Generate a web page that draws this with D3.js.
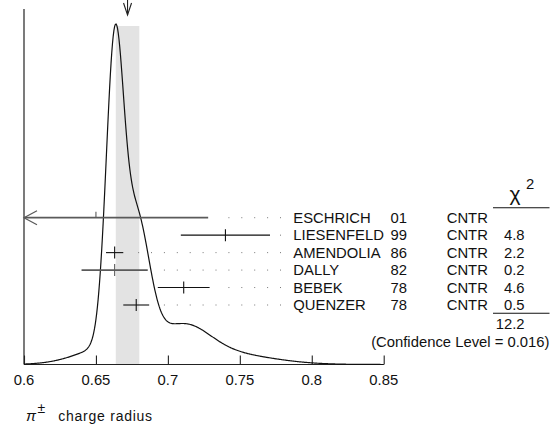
<!DOCTYPE html>
<html><head><meta charset="utf-8">
<script src="https://cdn.jsdelivr.net/npm/d3@7"></script>
<style>
html,body{margin:0;padding:0;background:#fff;}
svg{display:block;}
text{font-family:"Liberation Sans",Arial,sans-serif;}
</style></head>
<body>
<svg id="chart" width="556" height="427"></svg>
<script>
// ---- data ----
const names = ["ESCHRICH", "LIESENFELD", "AMENDOLIA", "DALLY", "BEBEK", "QUENZER"];
const years = ["01", "99", "86", "82", "78", "78"];
const techniques = ["CNTR", "CNTR", "CNTR", "CNTR", "CNTR", "CNTR"];
const values = [0.650, 0.740, 0.663, 0.663, 0.711, 0.678];
const errors = [0.078, 0.031, 0.006, 0.023, 0.018, 0.009];
const usedInFit = [false, true, true, true, true, true];
const chi2Labels = ["", "4.8", "2.2", "0.2", "4.6", "0.5"];
const chi2Total = "12.2";
const confidenceLevel = "0.016";
const xTicks = [0.6, 0.65, 0.7, 0.75, 0.8, 0.85];
const xTickLabels = ["0.6", "0.65", "0.7", "0.75", "0.8", "0.85"];
const quantityLabel = "charge radius";

// ---- derived fit (weighted mean, scaled error) ----
const fitIdx = d3.range(names.length).filter(i => usedInFit[i]);
const wsum = d3.sum(fitIdx, i => 1 / (errors[i] ** 2));
const mean = d3.sum(fitIdx, i => values[i] / (errors[i] ** 2)) / wsum;
const chi2 = d3.sum(fitIdx, i => ((values[i] - mean) / errors[i]) ** 2);
const scaleS = Math.sqrt(chi2 / (fitIdx.length - 1));
const meanErr = scaleS / Math.sqrt(wsum);

const svg = d3.select("#chart");
const x = d3.scaleLinear().domain([0.6, 0.85]).range([24, 383.7]);
const baseY = 364.5;
const rowY = d3.scaleLinear().domain([0, 5]).range([217.7, 305]);

const SX = 1.06;
function txt(px, py, str, anchor, size) {
  return svg.append("text")
    .attr("transform", `translate(${px},${py}) scale(${SX},1)`)
    .attr("text-anchor", anchor || "start")
    .attr("font-size", size || 14).attr("fill", "#111").text(str);
}

// ideogram: sum of gaussians, area ∝ 1/sigma
const gx = d3.range(0.6, 0.8501, 0.0005);
const ideo = gx.map(v => [v, d3.sum(fitIdx, i => {
  const s = errors[i];
  return (1 / (s * s)) * Math.exp(-0.5 * ((v - values[i]) / s) ** 2);
})]);
const yMax = d3.max(ideo, d => d[1]);
const y = d3.scaleLinear().domain([0, yMax]).range([baseY, 24]);

// band
svg.append("rect")
  .attr("x", x(mean - meanErr)).attr("width", x(mean + meanErr) - x(mean - meanErr))
  .attr("y", 26).attr("height", baseY - 26)
  .attr("fill", "#e3e3e3");

// arrow at top indicating the mean
const ax = x(mean);
svg.append("line").attr("x1", ax).attr("x2", ax).attr("y1", 0).attr("y2", 15)
  .attr("stroke", "#222").attr("stroke-width", 1.1);
svg.append("path").attr("d", `M${ax - 4},3 L${ax},15 L${ax + 4},3`)
  .attr("fill", "none").attr("stroke", "#222").attr("stroke-width", 1.1);

// axis frame
svg.append("line").attr("x1", x(0.6)).attr("x2", x(0.6)).attr("y1", 9).attr("y2", baseY)
  .attr("stroke", "#222").attr("stroke-width", 1.2);
const axisG = svg.append("g").attr("transform", `translate(0,${baseY})`)
  .call(d3.axisTop(x).tickValues(xTicks).tickSize(9).tickFormat(""));
axisG.select(".domain").attr("stroke", "#222").attr("stroke-width", 1.2).attr("d", `M${x(0.6)},0H${x(0.85)}`);
axisG.selectAll(".tick line").attr("stroke", "#222").attr("stroke-width", 1.1);
xTicks.forEach((t, i) => txt(x(t), 385, xTickLabels[i], "middle"));

// ideogram curve
svg.append("path").datum(ideo)
  .attr("d", d3.line().x(d => x(d[0])).y(d => y(d[1])))
  .attr("fill", "none").attr("stroke", "#111").attr("stroke-width", 1.2);

// measurements
const nameX = 293.3, yearX = 390.5, techX = 446.7, chiRight = 524.5;
names.forEach((n, i) => {
  const yy = rowY(i);
  const lo = values[i] - errors[i], hi = values[i] + errors[i];
  const x1 = Math.max(x(lo), x(0.6)), x2 = x(hi);
  const gray = (i === 0 || i === 3);
  const col = gray ? "#5a5a5a" : "#111";
  const sw = gray ? 1.7 : 1.1;
  svg.append("line").attr("x1", x1).attr("x2", x2).attr("y1", yy).attr("y2", yy)
    .attr("stroke", col).attr("stroke-width", sw);
  if (x(lo) < x(0.6)) {
    svg.append("path").attr("d", `M${x1 + 13},${yy - 7} L${x1},${yy} L${x1 + 13},${yy + 7}`)
      .attr("fill", "none").attr("stroke", col).attr("stroke-width", 1.2);
  }
  const cx = x(values[i]);
  svg.append("line").attr("x1", cx).attr("x2", cx)
    .attr("y1", yy - 6).attr("y2", i === 0 ? yy : yy + 6)
    .attr("stroke", col).attr("stroke-width", 1.1);
  // dotted leader
  for (let k = 0; k < 40; k++) {
    const dx = 280.5 - 12.9 * k;
    if (dx <= x2 + 10) break;
    svg.append("rect").attr("x", dx - 0.5).attr("y", yy - 0.5).attr("width", 1).attr("height", 1)
      .attr("fill", "#777");
  }
  const ty = yy + 5;
  txt(nameX, ty, n);
  txt(yearX, ty, years[i]);
  txt(techX, ty, techniques[i]);
  txt(chiRight, ty, chi2Labels[i], "end");
});

// chi2 header
svg.append("text").attr("x", 509.5).attr("y", 201).attr("font-size", 21)
  .attr("font-family", "'DejaVu Sans', sans-serif").attr("fill", "#111").text("χ");
txt(526, 188.5, "2", "start", 14);
svg.append("line").attr("x1", 493).attr("x2", 549.5).attr("y1", 207.7).attr("y2", 207.7)
  .attr("stroke", "#111").attr("stroke-width", 1.1);
svg.append("line").attr("x1", 493).attr("x2", 549.5).attr("y1", 313.3).attr("y2", 313.3)
  .attr("stroke", "#111").attr("stroke-width", 1.1);
txt(chiRight, 328.5, chi2Total, "end");
txt(549.5, 347, `(Confidence Level = ${confidenceLevel})`, "end");

// quantity label
svg.append("text").attr("x", 26).attr("y", 421).attr("font-size", 15)
  .attr("font-family", "'DejaVu Serif', serif").attr("font-style", "italic").attr("fill", "#111").text("π");
svg.append("text").attr("x", 37.5).attr("y", 413).attr("font-size", 14)
  .attr("font-family", "'DejaVu Sans', sans-serif").attr("fill", "#111").text("±");
svg.append("text").attr("x", 58.3).attr("y", 421).attr("font-size", 14)
  .attr("font-family", "'DejaVu Sans', sans-serif").attr("letter-spacing", 0.75).attr("fill", "#111").text(quantityLabel);
</script>
</body></html>
